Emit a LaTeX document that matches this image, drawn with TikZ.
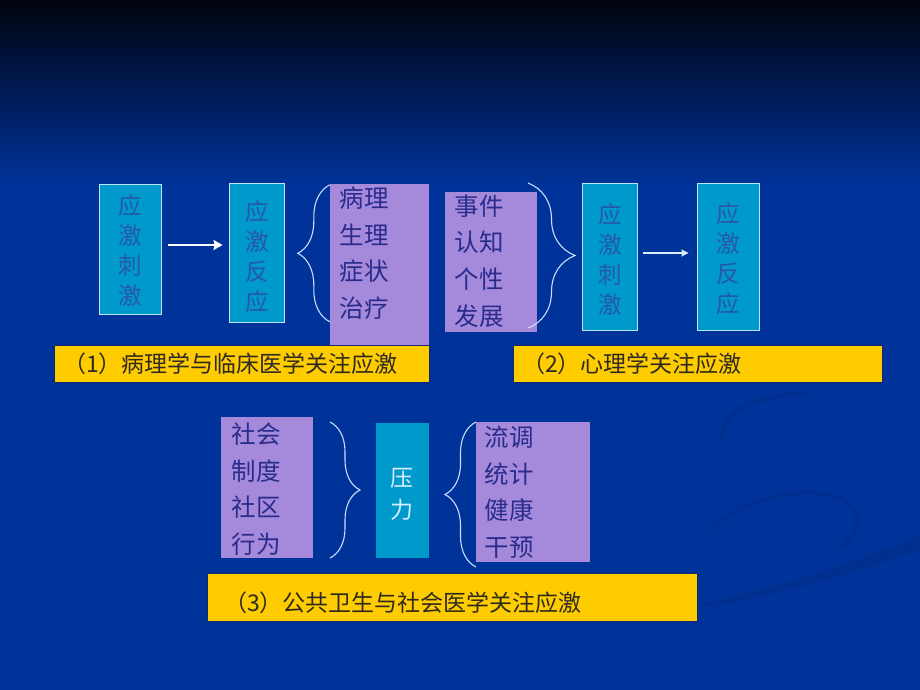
\documentclass[tikz,border=0pt]{standalone}
\usepackage{fontspec}
\newfontfamily\cjk{Noto Sans CJK SC}
\usetikzlibrary{decorations.pathreplacing,arrows.meta}
\definecolor{bgblue}{HTML}{003399}
\definecolor{bgtop}{HTML}{00030F}
\definecolor{swoosh}{HTML}{002F8F}
\definecolor{cyanfill}{HTML}{0099CC}
\definecolor{cyanedge}{HTML}{BFE4F8}
\definecolor{cyantext}{HTML}{2558A8}
\definecolor{purplefill}{HTML}{A58ADB}
\definecolor{purpletext}{HTML}{2A2C8C}
\definecolor{yellowfill}{HTML}{FFCC00}
\definecolor{yellowedge}{HTML}{14286E}
\definecolor{yellowtext}{HTML}{2E2A20}
\definecolor{bracecol}{HTML}{C8DCFF}
\definecolor{lighttext}{HTML}{D8EEFF}
\begin{document}
\begin{tikzpicture}[x=1pt,y=-1pt,
  cyanbox/.style={draw=cyanedge, line width=0.9pt, fill=cyanfill, inner sep=0pt},
  cyanplain/.style={fill=cyanfill, inner sep=0pt},
  purplebox/.style={fill=purplefill, inner sep=0pt},
  yellowbar/.style={fill=yellowfill, draw=yellowedge, line width=0.8pt, inner sep=0pt},
  vtext/.style={inner sep=0pt, align=center, text=cyantext, font=\cjk\fontsize{23.5}{30}\selectfont},
  ltext/.style={inner sep=0pt, align=center, text=lighttext, font=\cjk\fontsize{23}{32}\selectfont},
  ptext/.style={inner sep=0pt, align=left, text=purpletext, font=\cjk\fontsize{24.5}{36.6}\selectfont},
  ytext/.style={inner sep=0pt, anchor=east, text=yellowtext, font=\cjk\fontsize{23}{26}\selectfont},
  bracestyle/.style={draw=bracecol, line width=1.1pt, decorate},
  arrowthick/.style={draw=white, line width=2.6pt, -{Stealth[length=9pt,width=10pt,inset=1pt]}},
  arrowthin/.style={draw=lighttext, line width=1.4pt, -{Stealth[length=7pt,width=7pt,inset=0.5pt]}}
]
\useasboundingbox (0,0) rectangle (920,690);
\fill[bgblue] (0,0) rectangle (920,690);
\shade[top color=bgtop, bottom color=bgblue] (0,0) rectangle (920,185);

% faint background swoosh
\fill[swoosh] (705,603) .. controls (780,588) and (860,560) .. (920,536) -- (920,550) .. controls (860,570) and (780,596) .. (705,607) -- cycle;
\draw[swoosh, line width=5pt, line cap=round] (722,440) .. controls (724,412) and (745,398) .. (805,393);
\draw[swoosh, line width=4pt, line cap=round] (712,530) .. controls (740,500) and (800,482) .. (845,500) .. controls (862,510) and (860,532) .. (842,546);

% row 1 left
\node[cyanbox, minimum width=62pt, minimum height=130pt] (a) at (130,249) {};
\node[vtext] (at) at (130,250.5) {应\\激\\刺\\激};
\node[cyanbox, minimum width=55pt, minimum height=139pt] (b) at (256.5,252.5) {};
\node[vtext] (bt) at (257,256.5) {应\\激\\反\\应};
\node[purplebox, minimum width=99pt, minimum height=161pt] (p1) at (379.5,264.5) {};
\node[ptext] (p1t) at (364,253) {病理\\生理\\症状\\治疗};

\draw[arrowthick, shorten <=7pt, shorten >=6pt] ([yshift=4pt]a.east) -- ([yshift=4pt]a.east -| b.west);
\draw[bracestyle, decoration={brace, amplitude=32pt}] ([yshift=-138pt]p1.north west) -- ([yshift=-1pt]p1.north west);

% row 1 right
\node[purplebox, minimum width=92pt, minimum height=140pt] (p2) at (491,262) {};
\node[ptext] (p2t) at (479,261) {事件\\认知\\个性\\发展};
\node[cyanbox, minimum width=55pt, minimum height=147pt] (c) at (609.5,256.5) {};
\node[vtext] (ct) at (610,259) {应\\激\\刺\\激};
\node[cyanbox, minimum width=62pt, minimum height=147pt] (d) at (728,256.5) {};
\node[vtext] (dt) at (728,259) {应\\激\\反\\应};

\draw[bracestyle, decoration={brace, amplitude=47pt}] (528,183) -- (528,328);
\draw[arrowthin, shorten <=6pt, shorten >=8pt] ([yshift=3.5pt]c.east) -- ([yshift=3.5pt]c.east -| d.west);

% yellow bars row 1
\node[yellowbar, minimum width=375pt, minimum height=37pt] (y1) at (241.5,363.5) {};
\node[ytext] (y1t) at (398,363.5) {（1）病理学与临床医学关注应激};
\node[yellowbar, minimum width=369pt, minimum height=37pt] (y2) at (697.5,363.5) {};
\node[ytext] (y2t) at (742,363.5) {（2）心理学关注应激};

% row 2
\node[purplebox, minimum width=92pt, minimum height=141pt] (p3) at (267,487.5) {};
\node[ptext] (p3t) at (256,489) {社会\\制度\\社区\\行为};
\node[cyanplain, minimum width=53pt, minimum height=135pt] (e) at (402.5,490.5) {};
\node[ltext] (et) at (402,494) {压\\力};
\node[purplebox, minimum width=114pt, minimum height=140pt] (p4) at (533,492) {};
\node[ptext] (p4t) at (509,492) {流调\\统计\\健康\\干预};

\draw[bracestyle, decoration={brace, amplitude=30pt}] (330,422) -- (330,558);
\draw[bracestyle, decoration={brace, amplitude=31pt}] (476,567) -- (476,422);

\node[yellowbar, minimum width=490pt, minimum height=48pt] (y3) at (452,597) {};
\node[ytext] (y3t) at (582,603) {（3）公共卫生与社会医学关注应激};
\end{tikzpicture}
\end{document}
